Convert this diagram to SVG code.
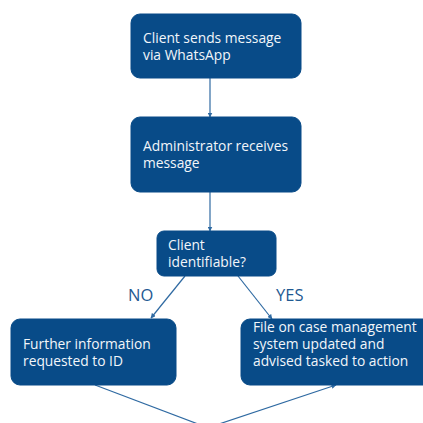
<svg xmlns="http://www.w3.org/2000/svg" width="423" height="423" viewBox="0 0 423 423">
<style>
.box{fill:#084b88;stroke:#084b88;}
.t{font-family:"Open Sans","Noto Sans",sans-serif;font-size:13.8px;fill:#f2f6fa;}
.lbl{font-family:"Open Sans","Noto Sans",sans-serif;font-size:16.5px;fill:#1f5a92;}
.c{stroke:#2f6aa2;stroke-width:1.2;fill:none;}
</style>
<defs>
<marker id="ah" markerWidth="5" markerHeight="5" refX="4.5" refY="2.5" orient="auto" markerUnits="userSpaceOnUse">
<path d="M0,0 L5,2.5 L0,5 Z" fill="#2f6aa2"/>
</marker>
</defs>
<rect width="423" height="423" fill="#ffffff"/>
<g id="connectors">
<line class="c" x1="210" y1="78" x2="210" y2="117" marker-end="url(#ah)"/>
<line class="c" x1="210" y1="192" x2="210" y2="231" marker-end="url(#ah)"/>
<line class="c" x1="185" y1="276" x2="151" y2="318" marker-end="url(#ah)"/>
<line class="c" x1="238" y1="276" x2="272" y2="319" marker-end="url(#ah)"/>
<line class="c" x1="95" y1="385" x2="198" y2="424"/>
<line class="c" x1="219" y1="424" x2="336" y2="385" marker-end="url(#ah)"/>
</g>
<g id="n1">
<rect class="box" x="131" y="14" width="170" height="64" rx="9"/>
<text class="t" x="143" y="43">Client sends message</text>
<text class="t" x="143" y="60">via WhatsApp</text>
</g>
<g id="n2">
<rect class="box" x="131" y="117" width="170" height="75" rx="9"/>
<text class="t" x="143" y="151">Administrator receives</text>
<text class="t" x="143" y="168">message</text>
</g>
<g id="n3">
<rect class="box" x="157" y="231" width="119" height="45" rx="7"/>
<text class="t" x="168" y="250">Client</text>
<text class="t" x="168" y="267">identifiable?</text>
</g>
<g id="lbl-no"><text class="lbl" x="128" y="301">NO</text></g>
<g id="lbl-yes"><text class="lbl" x="276" y="301">YES</text></g>
<g id="n4">
<rect class="box" x="11" y="319" width="165" height="66" rx="9"/>
<text class="t" x="23" y="349">Further information</text>
<text class="t" x="23" y="366">requested to ID</text>
</g>
<g id="n5">
<rect class="box" x="241" y="319" width="200" height="66" rx="9"/>
<text class="t" x="253" y="332">File on case management</text>
<text class="t" x="253" y="349">system updated and</text>
<text class="t" x="253" y="366">advised tasked to action</text>
</g>
</svg>
